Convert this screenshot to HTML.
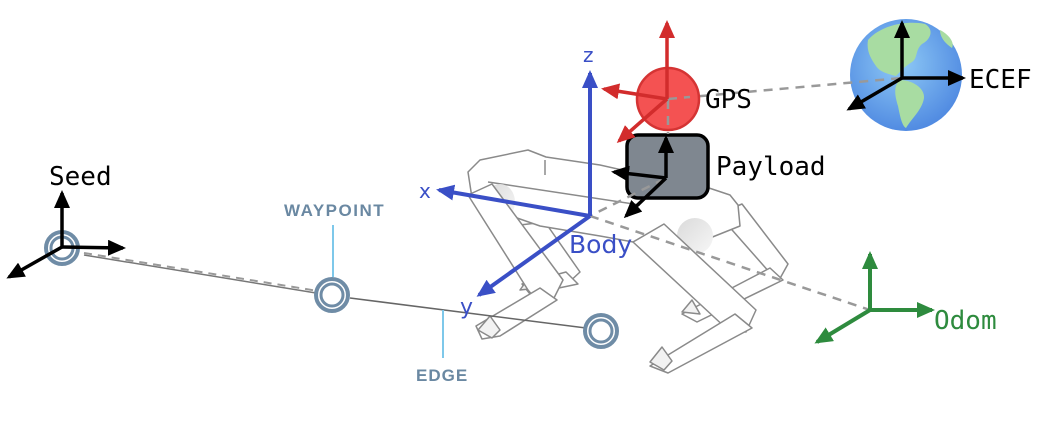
<!DOCTYPE html>
<html><head><meta charset="utf-8"><style>
html,body{margin:0;padding:0;background:#fff;}
svg{display:block;}
</style></head><body>
<svg width="1044" height="421" viewBox="0 0 1044 421" xmlns="http://www.w3.org/2000/svg">
<defs>
<marker id="ak" markerWidth="18" markerHeight="16" refX="15" refY="8" orient="auto" markerUnits="userSpaceOnUse"><path d="M0,0 L18,8 L0,16 z" fill="#000"/></marker>
<marker id="ab" markerWidth="18" markerHeight="16" refX="15" refY="8" orient="auto" markerUnits="userSpaceOnUse"><path d="M0,0 L18,8 L0,16 z" fill="#3a4fc6"/></marker>
<marker id="ar" markerWidth="18" markerHeight="16" refX="15" refY="8" orient="auto" markerUnits="userSpaceOnUse"><path d="M0,0 L18,8 L0,16 z" fill="#d22c2c"/></marker>
<marker id="ag" markerWidth="18" markerHeight="16" refX="15" refY="8" orient="auto" markerUnits="userSpaceOnUse"><path d="M0,0 L18,8 L0,16 z" fill="#2e8b3e"/></marker>
<radialGradient id="globe" cx="0.45" cy="0.4" r="0.65">
<stop offset="0" stop-color="#8fcaf6"/><stop offset="1" stop-color="#4c86e0"/>
</radialGradient>
<linearGradient id="hip" x1="0" y1="0" x2="1" y2="1"><stop offset="0" stop-color="#dadada"/><stop offset="1" stop-color="#f7f7f7"/></linearGradient>
</defs>

<!-- Robot (rough sketch) -->
<g stroke="#8a8a8a" stroke-width="1.5" fill="#fff" stroke-linejoin="round">
  <!-- far rear leg -->
  <polygon points="718,214 742,204 788,264 778,282"/>
  <polygon points="770,268 783,280 697,322 682,314"/>
  <path d="M682,312 l10,-12 l8,14 z" fill="#f2f2f2"/>
  <!-- far front leg -->
  <polygon points="520,225 545,222 580,272 566,285"/>
  <polygon points="566,272 578,284 530,294 522,284"/>
  <path d="M520,290 l10,-14 l8,12 z" fill="#f2f2f2"/>
  <!-- torso -->
  <polygon points="468,172 480,160 528,150 546,157 600,165 640,174 700,185 730,195 738,205 740,226 700,242 650,245 600,236 540,226 500,212 472,198" />
  <line x1="488" y1="182" x2="640" y2="205"/>
  <line x1="545" y1="160" x2="545" y2="175"/>
  <ellipse cx="500" cy="202" rx="15" ry="18" fill="url(#hip)" stroke="none"/>
  <ellipse cx="695" cy="236" rx="18" ry="18" fill="url(#hip)" stroke="none"/>
  <!-- near front leg -->
  <polygon points="468,195 492,184 563,280 553,300 538,302 528,290"/>
  <polygon points="540,288 557,300 500,336 482,339 476,326"/>
  <path d="M478,330 l12,-14 l10,14 l-8,8 z" fill="#f2f2f2"/>
  <!-- near rear leg -->
  <polygon points="633,242 664,224 756,310 746,332 728,330"/>
  <polygon points="735,314 752,328 668,373 650,366"/>
  <path d="M650,362 l12,-15 l10,14 l-8,9 z" fill="#f2f2f2"/>
</g>

<!-- Edges -->
<line x1="84" y1="255" x2="316" y2="293" stroke="#777" stroke-width="1.5"/>
<line x1="84" y1="253" x2="318" y2="291" stroke="#999" stroke-width="2" stroke-dasharray="8 6"/>
<line x1="350" y1="298" x2="586" y2="328" stroke="#666" stroke-width="1.5"/>

<!-- Waypoint labels -->
<line x1="333" y1="225" x2="333" y2="277" stroke="#7ec8ea" stroke-width="2"/>
<line x1="443" y1="310" x2="443" y2="358" stroke="#7ec8ea" stroke-width="2"/>
<text x="284" y="216" font-family="Liberation Sans, sans-serif" font-weight="bold" font-size="17" fill="#6a88a2" letter-spacing="1.5">WAYPOINT</text>
<text x="416" y="381" font-family="Liberation Sans, sans-serif" font-weight="bold" font-size="17" fill="#6a88a2" letter-spacing="1">EDGE</text>

<!-- Waypoint rings -->
<g fill="none" stroke="#6f8ca6">
  <circle cx="62" cy="248" r="16" stroke-width="4"/><circle cx="62" cy="248" r="11" stroke-width="3"/>
  <circle cx="332" cy="295" r="16" stroke-width="4"/><circle cx="332" cy="295" r="11" stroke-width="3"/>
  <circle cx="601" cy="331" r="16" stroke-width="4"/><circle cx="601" cy="331" r="11" stroke-width="3"/>
</g>

<!-- Globe -->
<circle cx="906" cy="75" r="56" fill="url(#globe)"/>
<path d="M868,40 C880,26 905,20 925,24 C935,30 930,40 922,44 C915,50 918,58 912,62 C905,66 900,72 896,76 C888,74 880,72 876,66 C872,60 866,52 868,40 z" fill="#a8dca2"/>
<path d="M900,80 C912,80 925,88 924,98 C922,110 912,118 906,128 C902,126 900,116 898,106 C895,96 893,86 900,80 z" fill="#a8dca2"/>
<path d="M940,30 C948,34 955,42 952,48 C946,44 940,38 940,30 z" fill="#a8dca2"/>

<!-- Dashed frame links -->
<g stroke="#999" stroke-width="2.5" stroke-dasharray="9 7" fill="none">
  <line x1="668" y1="99" x2="902" y2="78"/>
  <line x1="590" y1="216" x2="870" y2="310"/>
</g>

<!-- Payload box -->
<rect x="627" y="135" width="81" height="63" rx="11" fill="#7f8790" stroke="#000" stroke-width="3.5"/>
<g stroke="#999" stroke-width="2.5" stroke-dasharray="9 7" fill="none">
  <line x1="664" y1="179" x2="592" y2="215"/>
</g>

<!-- GPS -->
<circle cx="668" cy="99" r="31" fill="#f45252" stroke="#d53434" stroke-width="2.5"/>
<line x1="668" y1="100" x2="668" y2="134" stroke="#999" stroke-width="2.5" stroke-dasharray="9 7"/>
<line x1="668" y1="99" x2="690" y2="97" stroke="#999" stroke-width="2.5" stroke-dasharray="9 7"/>
<g stroke="#d22c2c" stroke-width="3.5" fill="none">
  <line x1="667" y1="99" x2="667" y2="23" marker-end="url(#ar)"/>
  <line x1="667" y1="99" x2="604" y2="89" marker-end="url(#ar)"/>
  <line x1="667" y1="99" x2="619" y2="141" marker-end="url(#ar)"/>
</g>

<!-- Payload axes -->
<g stroke="#000" stroke-width="3.5" fill="none">
  <line x1="666" y1="178" x2="666" y2="138" marker-end="url(#ak)"/>
  <line x1="666" y1="178" x2="614" y2="172" marker-end="url(#ak)"/>
  <line x1="666" y1="178" x2="626" y2="216" marker-end="url(#ak)"/>
</g>

<!-- Seed axes -->
<g stroke="#000" stroke-width="3.5" fill="none">
  <line x1="62" y1="247" x2="62" y2="193" marker-end="url(#ak)"/>
  <line x1="62" y1="247" x2="123" y2="248" marker-end="url(#ak)"/>
  <line x1="62" y1="247" x2="9" y2="277" marker-end="url(#ak)"/>
</g>

<!-- ECEF axes -->
<g stroke="#000" stroke-width="3.5" fill="none">
  <line x1="902" y1="78" x2="902" y2="23" marker-end="url(#ak)"/>
  <line x1="902" y1="78" x2="963" y2="78" marker-end="url(#ak)"/>
  <line x1="902" y1="78" x2="849" y2="109" marker-end="url(#ak)"/>
</g>

<!-- Body axes -->
<g stroke="#3a4fc6" stroke-width="4" fill="none">
  <line x1="590" y1="216" x2="590" y2="73" marker-end="url(#ab)"/>
  <line x1="590" y1="216" x2="439" y2="190" marker-end="url(#ab)"/>
  <line x1="590" y1="216" x2="479" y2="295" marker-end="url(#ab)"/>
</g>

<!-- Odom axes -->
<g stroke="#2e8b3e" stroke-width="4" fill="none">
  <line x1="870" y1="310" x2="870" y2="254" marker-end="url(#ag)"/>
  <line x1="870" y1="310" x2="932" y2="310" marker-end="url(#ag)"/>
  <line x1="870" y1="310" x2="817" y2="342" marker-end="url(#ag)"/>
</g>

<!-- Labels -->
<g font-family="DejaVu Sans Mono, Liberation Mono, monospace" font-size="26" fill="#000">
  <text x="49" y="185">Seed</text>
  <text x="705" y="108">GPS</text>
  <text x="716" y="175">Payload</text>
  <text x="969" y="88">ECEF</text>
  <text x="934" y="329" fill="#2e8b3e">Odom</text>
</g>
<text x="569" y="253" font-family="DejaVu Sans, Liberation Sans, sans-serif" font-size="25" fill="#3a4fc6">Body</text>
<g font-family="DejaVu Sans, Liberation Sans, sans-serif" fill="#3a4fc6">
  <text x="583" y="62" font-size="20">z</text>
  <text x="419" y="198" font-size="20">x</text>
  <text x="460" y="314" font-size="22">y</text>
</g>
</svg>
</body></html>
